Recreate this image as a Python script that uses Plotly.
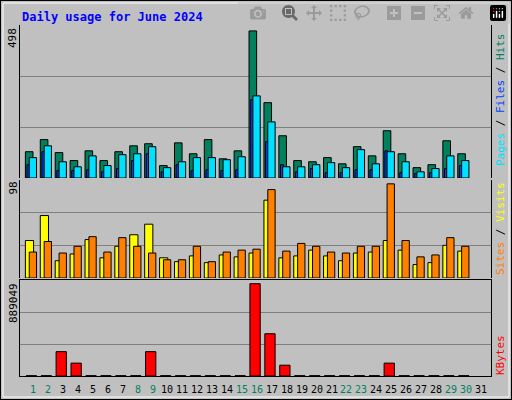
import plotly.graph_objects as go

days = list(range(1, 31))
hits = [89, 130, 86, 59, 92, 59, 89, 109, 116, 42, 119, 82, 130, 65, 92,
        498, 255, 143, 59, 55, 69, 48, 106, 75, 160, 82, 35, 45, 126, 82]
pages = [69, 109, 55, 38, 75, 42, 79, 82, 106, 35, 55, 69, 69, 62, 72,
         278, 190, 38, 38, 45, 52, 35, 96, 48, 89, 55, 21, 32, 75, 59]
files = [45, 89, 25, 25, 28, 21, 32, 59, 82, 21, 45, 25, 28, 25, 28,
         265, 123, 45, 21, 32, 18, 18, 28, 28, 92, 18, 15, 18, 32, 42]
visits = [39, 65, 18, 25, 40, 21, 33, 45, 56, 21, 17, 23, 16, 24, 22,
          26, 81, 21, 23, 29, 23, 18, 26, 27, 39, 29, 14, 16, 34, 28]
sites = [27, 38, 26, 33, 43, 27, 42, 33, 26, 19, 19, 33, 17, 27, 29,
         30, 92, 28, 36, 33, 27, 26, 33, 33, 98, 39, 22, 24, 42, 33]
kbytes = [0, 0, 234500, 124000, 0, 0, 0, 0, 234500, 0, 0, 0, 0, 0, 0,
          889049, 407000, 104000, 0, 0, 0, 0, 0, 0, 124000, 0, 0, 0, 0, 0]
weekend = [1, 2, 8, 9, 15, 16, 22, 23, 29, 30]

GREEN, BLUE, CYAN = "#00805C", "#0040FF", "#00E0FF"
YELLOW, ORANGE, RED = "#FFFF00", "#FF8000", "#FF0000"
FONT = "DejaVu Sans Mono"

top_max, mid_max, bot_max = 518, 102, 924600


def bar(y, color, axis, offset, width):
    return go.Bar(x=days, y=y, yaxis=axis, offset=offset, width=width,
                  marker=dict(color=color, line=dict(color="black", width=1)),
                  showlegend=False)


fig = go.Figure()
fig.add_trace(bar(hits, GREEN, "y", -0.53, 0.51))
fig.add_trace(bar(files, BLUE, "y", -0.42, 0.2))
fig.add_trace(bar(pages, CYAN, "y", -0.27, 0.49))
fig.add_trace(bar(visits, YELLOW, "y2", -0.53, 0.55))
fig.add_trace(bar(sites, ORANGE, "y2", -0.27, 0.49))
fig.add_trace(bar([max(v, 3000) for v in kbytes], RED, "y3", -0.47, 0.69))

ax = dict(showline=True, linecolor="black", mirror=True, showticklabels=False,
          ticks="", zeroline=False, gridcolor="#808080", gridwidth=1)
fig.update_layout(
    width=512, height=400, margin=dict(l=0, r=0, t=0, b=0),
    paper_bgcolor="#C0C0C0", plot_bgcolor="#C0C0C0", barmode="overlay",
    xaxis=dict(range=[0.107, 31.7], domain=[0.039, 0.959], showgrid=False,
               showline=True, linecolor="black", mirror=True,
               showticklabels=False, anchor="y3"),
    yaxis=dict(ax, domain=[0.555, 0.9375], range=[0, top_max],
               tickvals=[top_max / 3, 2 * top_max / 3]),
    yaxis2=dict(ax, domain=[0.305, 0.55], range=[0, mid_max],
                tickvals=[mid_max / 3, 2 * mid_max / 3]),
    yaxis3=dict(ax, domain=[0.06, 0.3], range=[0, bot_max],
                tickvals=[bot_max / 3, 2 * bot_max / 3]),
    font=dict(family=FONT, size=11, color="black"),
)

ann = [dict(text="<b>Daily usage for June 2024</b>", x=20, y=8, font=dict(color="#0000FF", size=12),
            xanchor="left", yanchor="top")]
for txt, ytop in [("498", 26), ("98", 180), ("889049", 281)]:
    ann.append(dict(text=txt, x=13, y=ytop, textangle=-90, xanchor="center", yanchor="top"))
right = [
    (f"<span style='color:{CYAN}'>Pages</span> / <span style='color:{BLUE}'>Files</span> / "
     f"<span style='color:{GREEN}'>Hits</span>", 100),
    (f"<span style='color:{ORANGE}'>Sites</span> / <span style='color:{YELLOW}'>Visits</span>", 229),
    (f"<span style='color:{RED}'>KBytes</span>", 355),
]
for txt, yc in right:
    ann.append(dict(text=txt, x=500, y=yc, textangle=-90, xanchor="center", yanchor="middle"))
for d in range(1, 32):
    ann.append(dict(text=str(d), x=33.3 + (d - 1) * 14.91, y=389, xanchor="center", yanchor="middle",
                    font=dict(color=GREEN if d in weekend else "black", size=10)))
for a in ann:
    a.update(xref="paper", yref="paper", showarrow=False)
    a["x"] = a["x"] / 512
    a["y"] = 1 - a["y"] / 400
fig.update_layout(annotations=ann)

fig.add_shape(type="rect", xref="paper", yref="paper", x0=0, x1=1, y0=0, y1=1,
              line=dict(color="black", width=2))
fig.add_shape(type="rect", xref="paper", yref="paper", x0=3 / 512, x1=1 - 3 / 512,
              y0=3 / 400, y1=1 - 3 / 400, line=dict(color="white", width=1))

# the page's default body margin shifts the chart, so drop it
fig.write_html("out.html", post_script="document.body.style.margin='0';")
